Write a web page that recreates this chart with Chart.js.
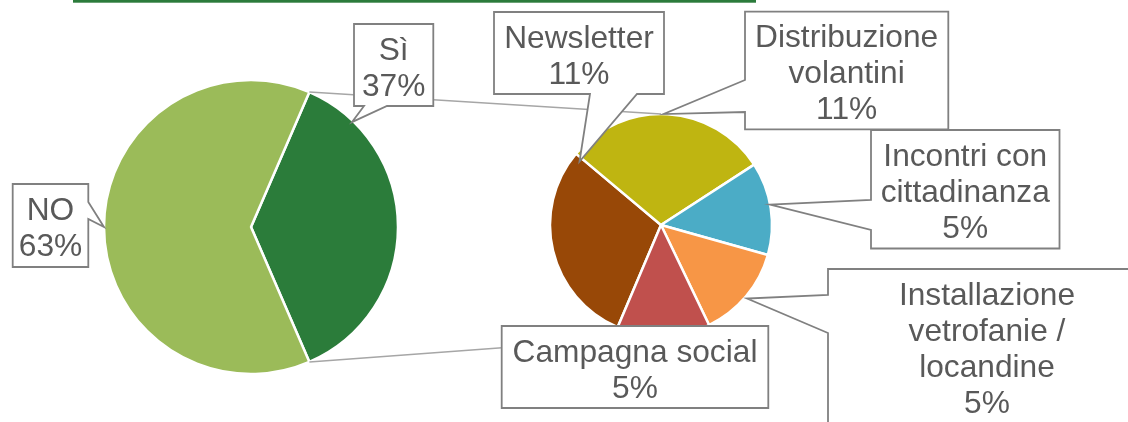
<!DOCTYPE html>
<html>
<head>
<meta charset="utf-8">
<script src="https://cdn.jsdelivr.net/npm/chart.js@4.4.1/dist/chart.umd.min.js"></script>
<style>
    html, body { margin: 0; padding: 0; background: #fff; }
    #wrap { position: relative; width: 1128px; height: 422px; overflow: hidden; }
    #wrap canvas { position: absolute; left: 0; top: 0; }
</style>
</head>
<body>
<div id="wrap">
    <canvas id="mainPie" width="1128" height="422"></canvas>
    <canvas id="subPie" width="1128" height="422"></canvas>
</div>
<script>
// Torta principale
const mainLabels = ['Sì', 'NO'];
const mainValues = [37, 63];
const mainColors = ['#2b7c3a', '#9bbb59'];

// Dettaglio del "Sì"
const subLabels = ['Newsletter', 'Distribuzione volantini', 'Incontri con cittadinanza', 'Installazione vetrofanie / locandine', 'Campagna social'];
const subValues = [11, 11, 5, 5, 5];
const subColors = ['#984807', '#bfb511', '#4bacc6', '#f79646', '#c0504d'];

// Testo delle etichette, riga per riga
const mainLabelLines = [['Sì'], ['NO']];
const subLabelLines = [['Newsletter'], ['Distribuzione', 'volantini'], ['Incontri con', 'cittadinanza'], ['Installazione', 'vetrofanie /', 'locandine'], ['Campagna social']];

// Posizione dei riquadri (x, y, w, h) e della "punta" del fumetto
const callouts = [
    { pie: 'main', i: 1, box: [12.7, 184, 75.6, 83], side: 'right', base: [202, 219], f: 0.5, k: 1.0 },
    { pie: 'main', i: 0, box: [354, 24, 79.3, 82], side: 'bottom', base: [364, 387], f: 0.154, k: 0.99 },
    { pie: 'sub', i: 0, box: [494, 12, 170, 82], side: 'bottom', base: [590, 637], f: 0.98, k: 0.93 },
    { pie: 'sub', i: 1, box: [745, 11.7, 203.3, 117.6], side: 'left', base: [80, 112], f: 0.48, k: 1.0 },
    { pie: 'sub', i: 2, box: [871, 130, 188.5, 118.5], side: 'left', base: [200, 230], f: 0.46, k: 1.0 },
    { pie: 'sub', i: 3, box: [828, 269, 318, 170], side: 'left', base: [295, 333], f: 0.51, k: 1.02 },
    { pie: 'sub', i: 4, box: [501.7, 326, 266.6, 82], side: null }
];

const FONT = '31.7px "Liberation Sans", Arial, sans-serif';
const TEXT_COLOR = '#595959';
const BOX_COLOR = '#808080';
const LINK_COLOR = '#a6a6a6';

let mainChart = null;

function arcPoint(el, angle, k) {
    return [el.x + k * el.outerRadius * Math.cos(angle), el.y + k * el.outerRadius * Math.sin(angle)];
}

function drawCallout(ctx, c, tip, lines) {
    const [x, y, w, h] = c.box;
    const pts = [];
    pts.push([x, y]);
    pts.push([x + w, y]);
    if (c.side === 'right') {
        pts.push([x + w, c.base[0]], tip, [x + w, c.base[1]]);
    }
    pts.push([x + w, y + h]);
    if (c.side === 'bottom') {
        pts.push([c.base[1], y + h], tip, [c.base[0], y + h]);
    }
    pts.push([x, y + h]);
    if (c.side === 'left') {
        pts.push([x, c.base[1]], tip, [x, c.base[0]]);
    }
    ctx.beginPath();
    pts.forEach((p, n) => n === 0 ? ctx.moveTo(p[0], p[1]) : ctx.lineTo(p[0], p[1]));
    ctx.closePath();
    ctx.fillStyle = '#fff';
    ctx.fill();
    ctx.lineWidth = 1.8;
    ctx.strokeStyle = BOX_COLOR;
    ctx.lineJoin = 'miter';
    ctx.stroke();

    ctx.font = FONT;
    ctx.fillStyle = TEXT_COLOR;
    ctx.textAlign = 'center';
    ctx.textBaseline = 'alphabetic';
    lines.forEach((t, n) => {
        ctx.fillText(t, x + w / 2, y + 35.5 + n * 36);
    });
}

const calloutPlugin = {
    id: 'pieOfPie',
    afterDraw(chart) {
        if (!mainChart) return;
        const ctx = chart.ctx;
        const mainArcs = mainChart.getDatasetMeta(0).data;
        const subArcs = chart.getDatasetMeta(0).data;
        ctx.save();

        // linea verde in alto
        ctx.fillStyle = '#2b7b3b';
        ctx.fillRect(73, 0, 683, 2.7);

        // linee di collegamento tra le due torte
        const si = mainArcs[0];
        const sub = subArcs[0];
        const p1 = arcPoint(si, si.startAngle, 1);
        const p2 = arcPoint(si, si.endAngle, 1);
        ctx.strokeStyle = LINK_COLOR;
        ctx.lineWidth = 1.5;
        ctx.beginPath();
        ctx.moveTo(p1[0], p1[1]);
        ctx.lineTo(sub.x, sub.y - sub.outerRadius);
        ctx.moveTo(p2[0], p2[1]);
        ctx.lineTo(sub.x, sub.y + sub.outerRadius);
        ctx.stroke();

        // etichette
        callouts.forEach(c => {
            const arcs = c.pie === 'main' ? mainArcs : subArcs;
            const values = c.pie === 'main' ? mainValues : subValues;
            const textLines = (c.pie === 'main' ? mainLabelLines : subLabelLines)[c.i].concat([values[c.i] + '%']);
            let tip = null;
            if (c.side) {
                const el = arcs[c.i];
                const a = el.startAngle + c.f * (el.endAngle - el.startAngle);
                tip = arcPoint(el, a, c.k);
            }
            drawCallout(ctx, c, tip, textLines);
        });
        ctx.restore();
    }
};

const baseOptions = {
    responsive: false,
    animation: false,
    events: [],
    plugins: { legend: { display: false }, tooltip: { enabled: false } }
};

mainChart = new Chart(document.getElementById('mainPie'), {
    type: 'pie',
    data: {
        labels: mainLabels,
        datasets: [{
            data: mainValues,
            backgroundColor: mainColors,
            borderColor: '#ffffff',
            borderWidth: 2.5,
            hoverOffset: 0,
            rotation: 23.4
        }]
    },
    options: Object.assign({}, baseOptions, {
        radius: 147,
        layout: { padding: { left: 0, right: 626, top: 32, bottom: 0 } }
    })
});

new Chart(document.getElementById('subPie'), {
    type: 'pie',
    data: {
        labels: subLabels,
        datasets: [{
            data: subValues,
            backgroundColor: subColors,
            borderColor: '#ffffff',
            borderWidth: 2.5,
            hoverOffset: 0,
            rotation: 203
        }]
    },
    options: Object.assign({}, baseOptions, {
        radius: 111,
        layout: { padding: { left: 194, right: 0, top: 28, bottom: 0 } }
    }),
    plugins: [calloutPlugin]
});
</script>
</body>
</html>
